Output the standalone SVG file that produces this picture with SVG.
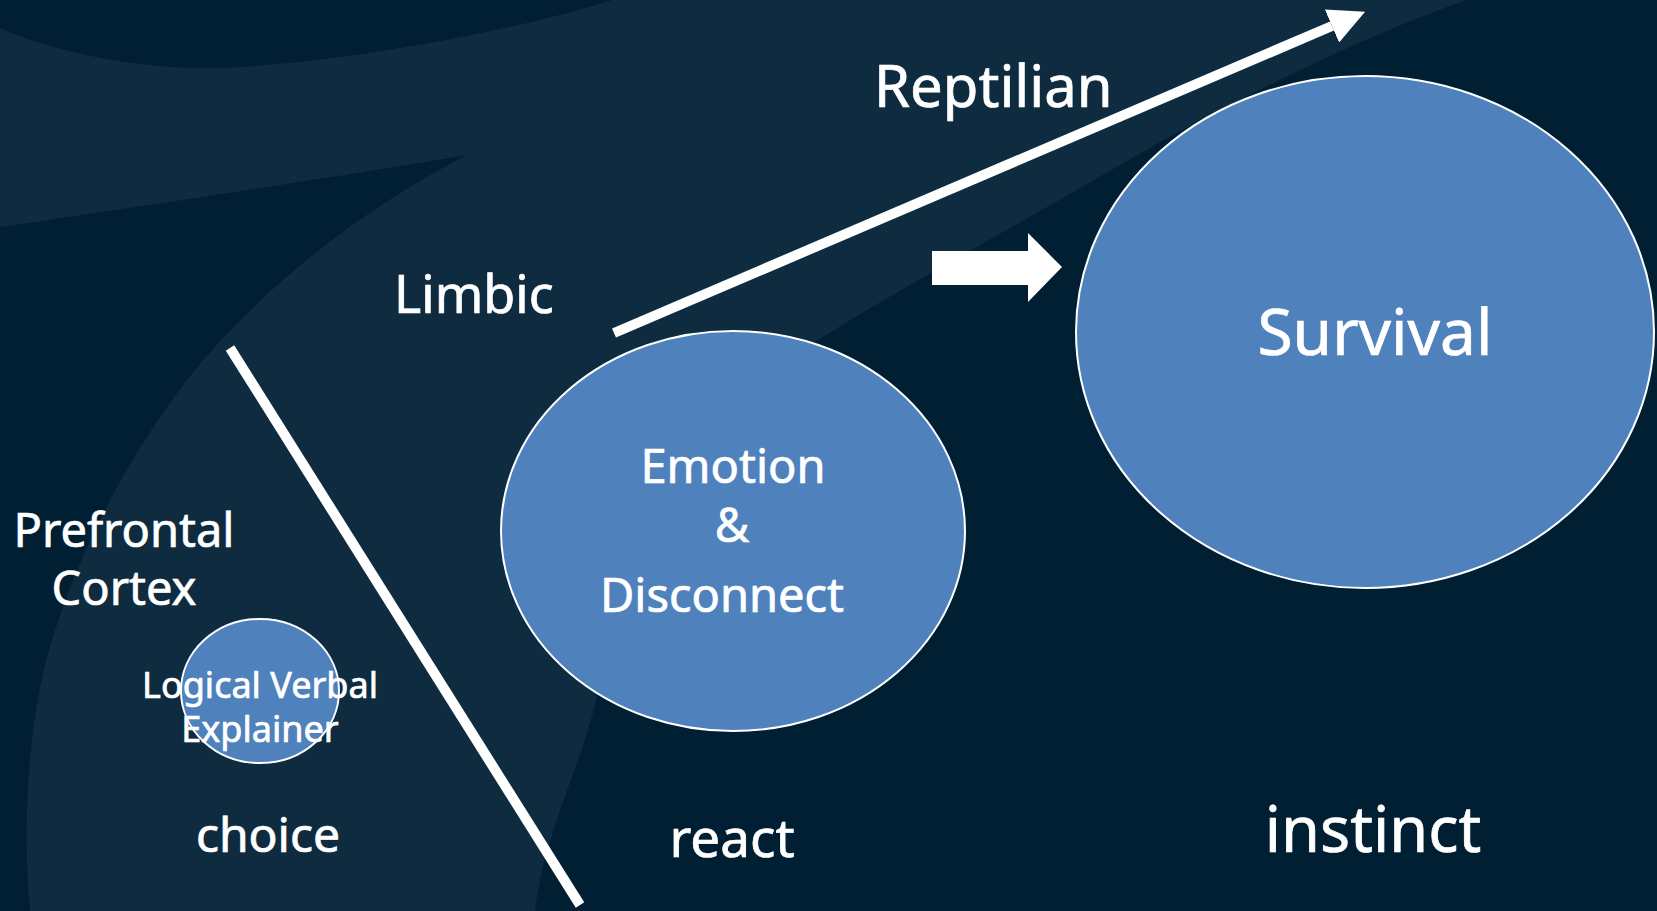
<svg xmlns="http://www.w3.org/2000/svg" width="1657" height="911" viewBox="0 0 1657 911">
  <style>
    .t { font-family: "Noto Sans", "Open Sans", "DejaVu Sans", sans-serif; fill: #ffffff; stroke: #ffffff; stroke-width: 0.7; }
    .mid { text-anchor: middle; }
    .blob { fill: #4f81bd; stroke: #ffffff; stroke-width: 2; }
    .bar { stroke: #ffffff; stroke-width: 10; fill: none; stroke-linecap: butt; }
  </style>
  <defs>
    <marker id="head" markerUnits="userSpaceOnUse" markerWidth="36" markerHeight="36" refX="0" refY="18" orient="auto">
      <path d="M0,0 L36,18 L0,36 Z" fill="#ffffff"/>
    </marker>
  </defs>

  <!-- backdrop: dark navy with a lighter swoosh -->
  <g id="backdrop">
    <rect x="0" y="0" width="1657" height="911" fill="#001f33"/>
    <path fill="#0e2b40" d="M1467,0
      C1380,30 1250,90 1120,165
      C1000,235 870,305 800,352
      C700,420 620,600 597,697
      C580,770 545,830 535,911
      L30,911
      C22,830 28,720 50,647
      C70,580 110,480 187,380
      C250,300 350,215 467,155
      C350,175 150,205 0,227
      L0,28
      C60,55 150,70 220,68
      C330,64 500,35 612,0 Z"/>
  </g>

  <!-- region labels -->
  <g id="label-reptilian"><text class="t" x="874" y="107" font-size="58">Reptilian</text></g>
  <g id="label-limbic"><text class="t" x="394" y="313" font-size="52">Limbic</text></g>
  <g id="label-prefrontal">
    <text class="t mid" x="124" y="547" font-size="47">Prefrontal</text>
    <text class="t mid" x="124" y="605" font-size="47">Cortex</text>
  </g>
  <g id="label-choice"><text class="t mid" x="268" y="852" font-size="48">choice</text></g>
  <g id="label-react"><text class="t mid" x="732" y="857" font-size="53">react</text></g>
  <g id="label-instinct"><text class="t mid" x="1373" y="852" font-size="63">instinct</text></g>

  <!-- nodes -->
  <g id="node-survival">
    <ellipse class="blob" cx="1365" cy="332" rx="289" ry="256"/>
    <text class="t mid" x="1375" y="355" font-size="64">Survival</text>
  </g>
  <g id="node-emotion">
    <ellipse class="blob" cx="733" cy="531" rx="232" ry="200"/>
    <text class="t mid" x="733" y="483" font-size="47">Emotion</text>
    <text class="t mid" x="732" y="542" font-size="47">&amp;</text>
    <text class="t mid" x="722" y="612" font-size="47">Disconnect</text>
  </g>
  <g id="node-explainer">
    <ellipse class="blob" cx="260" cy="691" rx="79" ry="72"/>
    <text class="t mid" x="260" y="698" font-size="36">Logical Verbal</text>
    <text class="t mid" x="260" y="742" font-size="36">Explainer</text>
  </g>

  <!-- connectors -->
  <g id="connectors">
    <line class="bar" x1="230" y1="348" x2="580" y2="905"/>
    <line class="bar" x1="614" y1="333" x2="1332" y2="26" marker-end="url(#head)"/>
    <polygon fill="#ffffff" points="932,251 1028,251 1028,233 1062,267 1028,302 1028,285 932,285"/>
  </g>
</svg>
